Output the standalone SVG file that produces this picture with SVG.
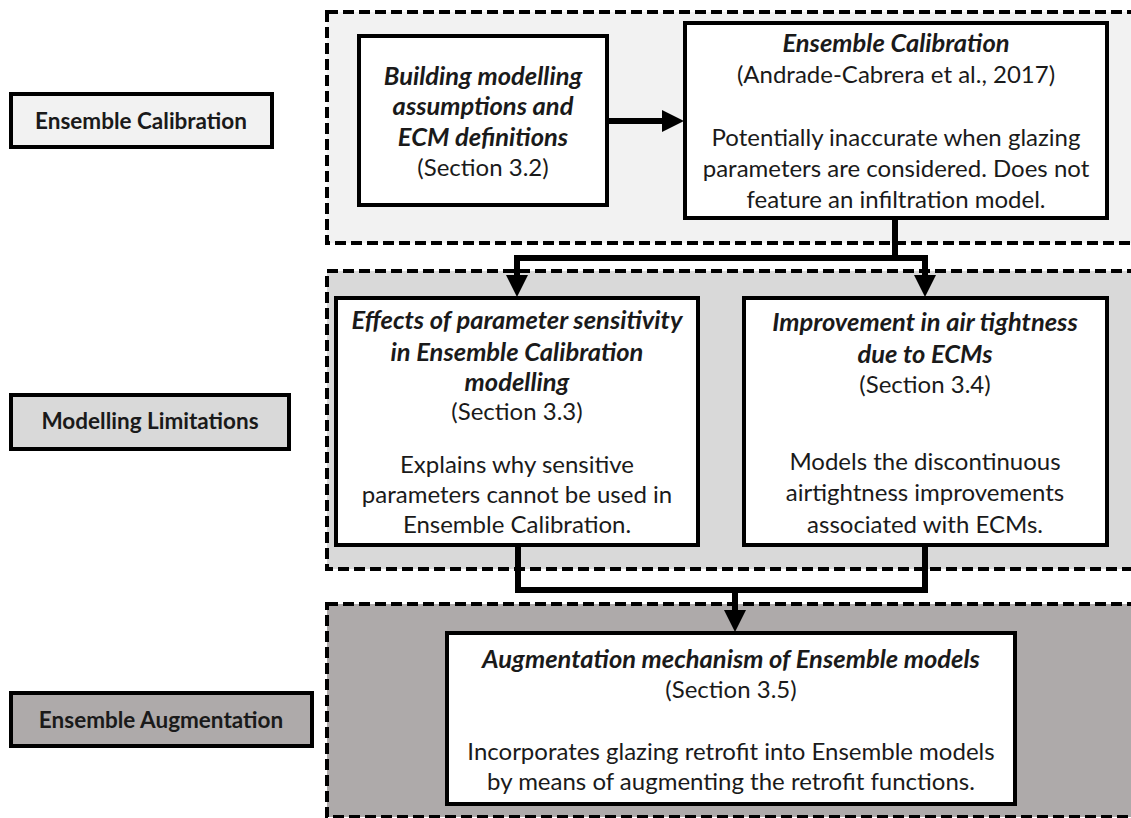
<svg xmlns="http://www.w3.org/2000/svg" width="1131" height="818" viewBox="0 0 1131 818">
<style>
text{font-family:Lato,"Liberation Sans",sans-serif;fill:#1a1a1a;text-anchor:middle}
.t{font-size:25.5px;font-weight:bold;font-style:italic}
.b{font-size:24px}
.lbl{font-size:22.5px;font-weight:bold}
.grp{stroke:#000;stroke-width:4;stroke-dasharray:11 5}
.box{fill:#fff;stroke:#000;stroke-width:4}
.lb{stroke:#000;stroke-width:4}
.c{fill:none;stroke:#000;stroke-width:6}
</style>
<defs>
<marker id="ah" markerWidth="22" markerHeight="22" refX="10" refY="11" orient="auto" markerUnits="userSpaceOnUse" viewBox="0 0 22 22">
<path d="M0,0 L22,11 L0,22 Z" fill="#000"/>
</marker>
</defs>
<g id="containers">
<rect class="grp" x="327" y="12" width="830" height="231" fill="#f2f2f2"/>
<rect class="grp" x="327" y="271" width="830" height="298" fill="#d9d9d9"/>
<rect class="grp" x="327" y="604" width="830" height="213" fill="#aeaaaa"/>
</g>
<g id="label-calibration">
<rect class="lb" x="11" y="94" width="261" height="53" fill="#f2f2f2"/>
<text class="lbl" x="141" y="129">Ensemble Calibration</text>
</g>
<g id="label-limitations">
<rect class="lb" x="11" y="395" width="278" height="54" fill="#d9d9d9"/>
<text class="lbl" x="150" y="429">Modelling Limitations</text>
</g>
<g id="label-augmentation">
<rect class="lb" x="11" y="693" width="301" height="53" fill="#aeaaaa"/>
<text class="lbl" x="161" y="728">Ensemble Augmentation</text>
</g>
<g id="connectors">
<path class="c" d="M607,121 H672" marker-end="url(#ah)"/>
<path class="c" d="M895,218 V258 H925 V285" marker-end="url(#ah)"/>
<path class="c" d="M898,258 H517 V285" marker-end="url(#ah)"/>
<path class="c" d="M518,545 V590 H925 V545"/>
<path class="c" d="M735,590 V620" marker-end="url(#ah)"/>
</g>
<g id="node-assumptions">
<rect class="box" x="359" y="36" width="248" height="169"/>
<text class="t" x="483" y="85">Building modelling</text>
<text class="t" x="483" y="115">assumptions and</text>
<text class="t" x="483" y="146">ECM definitions</text>
<text class="b" x="483" y="176">(Section 3.2)</text>
</g>
<g id="node-calibration">
<rect class="box" x="685" y="23" width="422" height="195"/>
<text class="t" x="896" y="52">Ensemble Calibration</text>
<text class="b" x="896" y="83">(Andrade-Cabrera et al., 2017)</text>
<text class="b" x="896" y="146">Potentially inaccurate when glazing</text>
<text class="b" x="896" y="177">parameters are considered. Does not</text>
<text class="b" x="896" y="208">feature an infiltration model.</text>
</g>
<g id="node-sensitivity">
<rect class="box" x="336" y="298" width="362" height="247"/>
<text class="t" x="517" y="329">Effects of parameter sensitivity</text>
<text class="t" x="517" y="361">in Ensemble Calibration</text>
<text class="t" x="517" y="391">modelling</text>
<text class="b" x="517" y="420">(Section 3.3)</text>
<text class="b" x="517" y="473">Explains why sensitive</text>
<text class="b" x="517" y="503">parameters cannot be used in</text>
<text class="b" x="517" y="533">Ensemble Calibration.</text>
</g>
<g id="node-airtightness">
<rect class="box" x="744" y="298" width="363" height="247"/>
<text class="t" x="925" y="331">Improvement in air tightness</text>
<text class="t" x="925" y="363">due to ECMs</text>
<text class="b" x="925" y="393">(Section 3.4)</text>
<text class="b" x="925" y="470">Models the discontinuous</text>
<text class="b" x="925" y="501">airtightness improvements</text>
<text class="b" x="925" y="533">associated with ECMs.</text>
</g>
<g id="node-augmentation">
<rect class="box" x="447" y="633" width="568" height="171"/>
<text class="t" x="731" y="668">Augmentation mechanism of Ensemble models</text>
<text class="b" x="731" y="698">(Section 3.5)</text>
<text class="b" x="731" y="760">Incorporates glazing retrofit into Ensemble models</text>
<text class="b" x="731" y="790">by means of augmenting the retrofit functions.</text>
</g>
</svg>
